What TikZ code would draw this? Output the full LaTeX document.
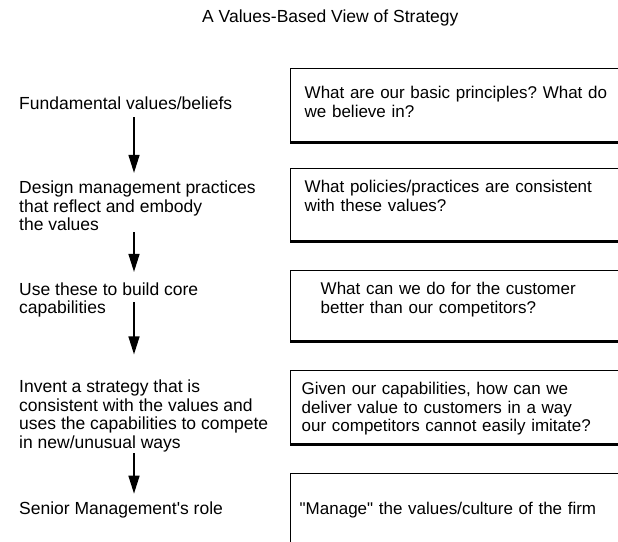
\documentclass[tikz,border=0pt]{standalone}
\usepackage{fontspec}
\setmainfont{Liberation Sans}
\usetikzlibrary{arrows.meta,positioning}
\newcommand{\bodyfont}{\fontsize{17.5}{18.5}\selectfont}
\newcommand{\boxfont}{\fontsize{17}{18.5}\selectfont}

\begin{document}
\frenchspacing
\begin{tikzpicture}[x=1pt, y=-1pt,
  lbl/.style={align=left, inner sep=0pt, anchor=west, font=\bodyfont},
  qbox/.style={draw, line width=1.4pt, anchor=north west, align=left, inner xsep=14pt, inner ysep=11pt, text width=330pt, text height=13pt, font=\boxfont},
  base/.style={line width=3.2pt},
  arr/.style={-{Triangle[width=11pt,length=18pt]}, line width=1.4pt}]
\clip (0,0) rectangle (618,541);
\node[lbl] (title) at (202,18) {A Values-Based View of Strategy};
% left column
\node[lbl] (fund) at (19,103) {Fundamental values/beliefs};
\node[lbl] (design) at (19,206) {Design management practices\\that reflect and embody\\the values};
\node[lbl] (use) at (19,300) {Use these to build core\\capabilities};
\node[lbl] (invent) at (19,416) {Invent a strategy that is\\consistent with the values and\\uses the capabilities to compete\\in new/unusual ways};
\node[lbl] (senior) at (19,510) {Senior Management\textquotesingle s role};
% question boxes, open to the right edge
\node[qbox, inner ysep=17pt, text depth=26pt] (q1) at (290,68) {What are our basic principles? What do\\we believe in?};
\node[qbox, text depth=37pt] (q2) at (290,168) {What policies/practices are consistent\\with these values?};
\node[qbox, inner xsep=30pt, text width=316pt, text depth=35pt] (q3) at (290,270) {What can we do for the customer\\better than our competitors?};
\node[qbox, inner xsep=11pt, text width=334pt, text depth=38pt] (q4) at (290,370) {Given our capabilities, how can we\\deliver value to customers in a way\\our competitors cannot easily imitate?};
\node[qbox, inner xsep=9pt, text width=336pt, inner ysep=28pt, text depth=11pt] (q5) at (290,473) {\textquotedbl Manage\textquotedbl{} the values/culture of the firm};
\foreach \q in {q1,q2,q3,q4,q5}
  \draw[base] (\q.south west) -- (\q.south east);
% arrows down the left column
\coordinate (spine) at (134,0);
\draw[arr, shorten <=7.5pt, shorten >=8pt] (fund.south -| spine) -- (design.north -| spine);
\draw[arr, shorten <=1pt, shorten >=10.5pt] (design.south -| spine) -- (use.north -| spine);
\draw[arr, shorten <=-15.5pt, shorten >=25.5pt] (use.south -| spine) -- (invent.north -| spine);
\draw[arr, shorten <=1pt, shorten >=8pt] (invent.south -| spine) -- (senior.north -| spine);
\end{tikzpicture}
\end{document}
